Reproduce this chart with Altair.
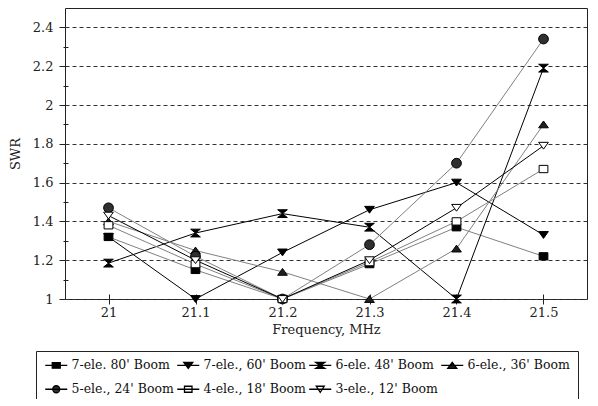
import altair as alt
import pandas as pd

freq = [21.0, 21.1, 21.2, 21.3, 21.4, 21.5]
series = ["7-ele. 80' Boom", "7-ele., 60' Boom", "6-ele. 48' Boom", "6-ele., 36' Boom",
          "5-ele., 24' Boom", "4-ele., 18' Boom", "3-ele., 12' Boom"]
s80 = [1.32, 1.15, 1.00, 1.18, 1.37, 1.22]
s60 = [1.32, 1.00, 1.24, 1.46, 1.60, 1.33]
s48 = [1.185, 1.34, 1.44, 1.37, 1.00, 2.19]
s36 = [1.40, 1.25, 1.14, 1.00, 1.26, 1.90]
s24 = [1.47, 1.22, 1.00, 1.28, 1.70, 2.34]
s18 = [1.38, 1.18, 1.00, 1.19, 1.40, 1.67]
s12 = [1.43, 1.20, 1.00, 1.20, 1.47, 1.79]
values = [s80, s60, s48, s36, s24, s18, s12]

line_colors = ["#808080", "#000000", "#000000", "#808080", "#808080", "#808080", "#000000"]
fills = ["#000000", "#000000", "#000000", "#202020", "#303030", "#ffffff", "#ffffff"]
legend_strokes = ["#000000"] * 7
marker_paths = [
    "M-0.9,-0.75H0.9V0.75H-0.9Z",
    "M-1,-0.7L1,-0.7L0,0.7Z",
    "M-1,-0.8H1L-1,0.8H1Z",
    "M-1,0.7L1,0.7L0,-0.7Z",
    "circle",
    "M-0.9,-0.75H0.9V0.75H-0.9Z",
    "M-1,-0.7L1,-0.7L0,0.7Z",
]
seg = "M-2.2,0H2.2"
legend_paths = [
    seg + "M-0.8,-0.55H0.8V0.55H-0.8Z",
    seg + "M-0.9,-0.6L0.9,-0.6L0,0.6Z",
    seg + "M-0.9,-0.6H0.9L-0.9,0.6H0.9Z",
    seg + "M-0.9,0.6L0.9,0.6L0,-0.6Z",
    seg + "M0.7,0A0.7,0.7,0,1,1,-0.7,0A0.7,0.7,0,1,1,0.7,0Z",
    seg + "M-0.75,-0.6H0.75V0.6H-0.75Z",
    seg + "M-0.8,-0.6L0.8,-0.6L0,0.6Z",
]

rows = []
for name, vals in zip(series, values):
    for f, v in zip(freq, vals):
        rows.append({"freq": f, "swr": v, "series": name, "legend": name})
df = pd.DataFrame(rows)

font = "DejaVu Serif"
xscale = alt.Scale(domain=[20.95, 21.55], nice=False, zero=False)
yscale = alt.Scale(domain=[1.0, 2.5], nice=False, zero=False)

x_enc = alt.X("freq:Q", scale=xscale, title="Frequency, MHz",
              axis=alt.Axis(values=freq, format="~g", domain=False, grid=False,
                            offset=-5, tickSize=10, tickColor="#222", labelPadding=2,
                            labelFont=font, labelFontSize=13, labelColor="#222",
                            titleFont=font, titleFontSize=13, titleFontWeight="normal",
                            titleColor="#222", titlePadding=4))
y_enc = alt.Y("swr:Q", scale=yscale, title="SWR",
              axis=alt.Axis(values=[1.0, 1.2, 1.4, 1.6, 1.8, 2.0, 2.2, 2.4], format="~g",
                            domain=False, grid=True, gridDash=[4, 3], gridColor="#333",
                            gridWidth=1, tickSize=6, tickColor="#222", labelPadding=6,
                            labelFont=font, labelFontSize=13, labelColor="#222",
                            titleFont=font, titleFontSize=13, titleFontWeight="normal",
                            titleColor="#222", titlePadding=10))

base = alt.Chart(df)

lines = base.mark_line(strokeWidth=1).encode(
    x=x_enc, y=y_enc, detail="series:N",
    color=alt.Color("series:N", scale=alt.Scale(domain=series, range=line_colors), legend=None),
)

points = base.mark_point(filled=True, size=95, stroke="black", strokeWidth=1, opacity=1).encode(
    x=alt.X("freq:Q", scale=xscale),
    y=alt.Y("swr:Q", scale=yscale, axis=None),
    shape=alt.Shape("series:N", scale=alt.Scale(domain=series, range=marker_paths), legend=None),
    fill=alt.Fill("series:N", scale=alt.Scale(domain=series, range=fills), legend=None),
)

minor = base.mark_point(opacity=0).encode(
    x=alt.X("freq:Q", scale=xscale),
    y=alt.Y("swr:Q", scale=yscale,
            axis=alt.Axis(values=[1.1, 1.3, 1.5, 1.7, 1.9, 2.1, 2.3], labels=False,
                          domain=False, grid=False, tickSize=5, offset=-3,
                          tickColor="#222", title=None, orient="left")),
)

leg = alt.Legend(title=None, orient="none", legendX=-29, legendY=343, columns=4,
                 direction="horizontal", labelFont=font, labelFontSize=12.5,
                 labelColor="#111", symbolSize=100,
                 symbolStrokeWidth=1.3, symbolOpacity=1, labelOffset=9,
                 symbolOffset=6, columnPadding=0, rowPadding=11, padding=8,
                 strokeColor="#222", fillColor="white")

legend_layer = base.transform_filter("false").mark_point(
    filled=True, strokeWidth=1.3, opacity=1
).encode(
    x=alt.X("freq:Q", scale=xscale),
    y=alt.Y("swr:Q", scale=yscale, axis=None),
    shape=alt.Shape("legend:N", scale=alt.Scale(domain=series, range=legend_paths), legend=leg),
    fill=alt.Fill("legend:N", scale=alt.Scale(domain=series, range=fills), legend=leg),
    stroke=alt.Stroke("legend:N", scale=alt.Scale(domain=series, range=legend_strokes), legend=leg),
)

chart = alt.layer(lines, points, minor, legend_layer).resolve_scale(
    shape="independent", fill="independent", stroke="independent"
).resolve_axis(y="independent").properties(
    width=522, height=291,
    autosize=alt.AutoSizeParams(type="none"),
    padding={"left": 57, "top": 0, "right": 3, "bottom": 100},
).configure(background="white").configure_view(stroke="#222", strokeWidth=1)

chart.save("out.html", embed_options={"renderer": "svg", "actions": False})
